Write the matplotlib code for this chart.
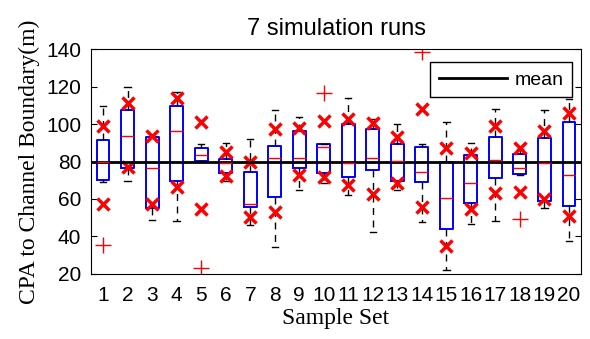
import matplotlib.pyplot as plt

# box statistics (one entry per sample set)
sets = list(range(1, 21))
q1 = [70.1, 76.4, 55.0, 69.8, 80.3, 73.7, 55.7, 60.8, 76.5, 74.0,
      71.7, 75.3, 69.8, 69.1, 44.0, 58.0, 71.0, 73.3, 58.7, 56.3]
med = [79.6, 93.6, 76.7, 96.4, 83.3, 79.0, 57.5, 82.0, 82.0, 87.7,
       79.4, 82.0, 80.3, 74.6, 60.7, 68.7, 80.8, 76.7, 79.2, 72.8]
q3 = [91.5, 107.3, 93.2, 109.6, 87.0, 81.5, 74.6, 88.3, 96.3, 89.3,
      99.8, 97.5, 89.3, 87.6, 79.9, 83.3, 93.2, 84.0, 92.3, 101.2]
whis_lo = [69.2, 69.8, 48.8, 48.4, 80.3, 69.8, 46.0, 34.2, 64.8, 68.7,
           62.0, 42.2, 65.0, 47.7, 22.0, 46.7, 48.3, 73.0, 55.2, 37.6]
whis_hi = [109.6, 119.6, 93.5, 117.0, 89.3, 90.0, 92.0, 107.5, 103.6, 89.3,
           113.9, 102.8, 100.0, 89.3, 101.2, 90.0, 107.8, 86.9, 107.5, 113.3]
outliers = [[35.5], [], [], [], [23.4], [], [], [], [], [116.7],
            [], [], [], [138.6], [], [], [], [49.3], [], []]

# red crosses (upper / lower) per set
cross_hi = [99.1, 111.0, 93.5, 114.0, 100.9, 84.9, 79.6, 97.3, 98.0, 101.6,
            102.5, 100.7, 92.9, 108.2, 87.0, 84.7, 99.1, 87.0, 96.3, 106.0]
cross_lo = [57.3, 76.9, 57.3, 66.6, 54.7, 72.4, 50.6, 52.9, 72.6, 71.9,
            67.5, 62.8, 68.5, 55.7, 34.9, 54.8, 63.0, 63.6, 59.8, 50.9]

mean_value = 80

stats = []
for i in range(len(sets)):
    stats.append({"q1": q1[i], "med": med[i], "q3": q3[i],
                  "whislo": whis_lo[i], "whishi": whis_hi[i],
                  "fliers": outliers[i]})

fig = plt.figure(figsize=(5.9, 3.39), dpi=100)
ax = fig.add_axes([0.154, 0.192, 0.831, 0.663])

ax.bxp(stats, positions=sets, widths=0.52, capwidths=0.26,
       boxprops=dict(color="blue", linewidth=1.4),
       medianprops=dict(color="red", linewidth=1.0),
       whiskerprops=dict(color="black", linewidth=1.0, linestyle=(0, (5, 4))),
       capprops=dict(color="black", linewidth=1.0),
       flierprops=dict(marker="+", markeredgecolor="red", markersize=11,
                       markeredgewidth=1.0))

ax.plot(sets, cross_hi, "x", color="red", markersize=9, markeredgewidth=2.5,
        linestyle="none")
ax.plot(sets, cross_lo, "x", color="red", markersize=9, markeredgewidth=2.5,
        linestyle="none")

ax.axhline(mean_value, color="black", linewidth=2, label="mean")

ax.set_xlim(0.5, 20.5)
ax.set_ylim(20, 140)
ax.set_yticks([20, 40, 60, 80, 100, 120, 140])
ax.set_xticks(sets)
ax.set_xticklabels([str(s) for s in sets], family="Liberation Sans", fontsize=15)
for lab in ax.get_yticklabels():
    lab.set_family("Liberation Sans")
    lab.set_fontsize(15)
ax.tick_params(axis="y", direction="in", length=4, right=True, pad=7)
ax.tick_params(axis="x", length=0, pad=9)

ax.set_title("7 simulation runs", family="Liberation Sans", fontsize=17, pad=10)
ax.set_xlabel("Sample Set", family="Liberation Serif", fontsize=17, labelpad=2)
ax.set_ylabel("CPA to Channel Boundary(m)", family="Liberation Serif",
              fontsize=17, labelpad=4)

leg = ax.legend(loc="upper right", prop={"family": "Liberation Sans", "size": 14},
                fancybox=False, framealpha=1, edgecolor="black",
                handlelength=3.5, handletextpad=0.4, borderpad=0.45,
                borderaxespad=0, bbox_to_anchor=(0.982, 0.942))
leg.get_frame().set_linewidth(1.0)

plt.savefig("out.png", dpi=100)
